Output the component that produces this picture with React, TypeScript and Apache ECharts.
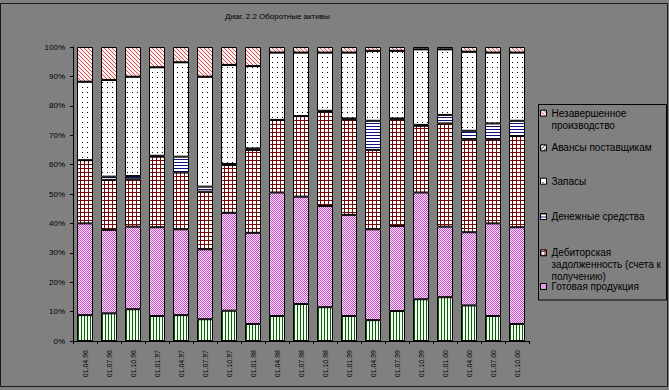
import React, { useEffect, useRef } from "react";
import * as echarts from "echarts";

const categories = [
  "01.04.96", "01.07.96", "01.10.96", "01.01.97", "01.04.97", "01.07.97", "01.10.97",
  "01.01.98", "01.04.98", "01.07.98", "01.10.98", "01.01.99", "01.04.99", "01.07.99",
  "01.10.99", "01.01.00", "01.04.00", "01.07.00", "01.10.00",
];

// bottom segment (its legend entry is not shown in the picture)
const otherValues = [8.8, 9.4, 10.8, 8.5, 8.8, 7.4, 10.3, 5.8, 8.5, 12.6, 11.5, 8.5, 7.1, 10.2, 14.2, 14.9, 12.1, 8.5, 5.8];
const finishedGoods = [31.2, 28.4, 28.1, 30.2, 29.2, 23.8, 33.3, 31.0, 42.0, 36.5, 34.4, 34.4, 30.9, 28.9, 36.3, 24.0, 24.9, 31.5, 32.9];
const receivables = [21.5, 17.0, 16.1, 24.0, 19.3, 19.6, 16.3, 28.2, 24.7, 27.4, 32.1, 32.5, 27.0, 36.3, 22.7, 35.1, 31.6, 28.6, 31.0];
const cash = [0, 1.1, 1.1, 0.3, 5.4, 1.7, 0.3, 0.5, 0, 0, 0.3, 0.3, 9.9, 0.3, 0.3, 2.9, 2.9, 5.4, 5.2];
const inventory = [26.7, 32.9, 33.8, 30.1, 32.1, 37.4, 33.7, 28.0, 22.9, 21.6, 19.8, 22.4, 23.8, 23.0, 25.7, 22.3, 26.9, 24.1, 23.2];
const advances = [0, 0, 0, 0, 0, 0, 0, 0, 0, 0, 0, 0, 0, 0, 0, 0, 0, 0, 0];
const wip = [11.8, 11.2, 10.1, 6.9, 5.2, 10.1, 6.1, 6.5, 1.9, 1.9, 1.9, 1.9, 1.3, 1.3, 0.8, 0.8, 1.6, 1.9, 1.9];

const yTicks = [0, 10, 20, 30, 40, 50, 60, 70, 80, 90, 100];

const NAME_OTHER = "Прочие";
const NAME_GOODS = "Готовая продукция";
const NAME_RECV = "Дебиторская задолженность (счета к получению)";
const NAME_CASH = "Денежные средства";
const NAME_INV = "Запасы";
const NAME_ADV = "Авансы поставщикам";
const NAME_WIP = "Незавершенное производство";

const legendLines: Record<string, string> = {
  [NAME_WIP]: "Незавершенное\nпроизводство",
  [NAME_ADV]: "Авансы поставщикам",
  [NAME_INV]: "Запасы",
  [NAME_CASH]: "Денежные средства",
  [NAME_RECV]: "Дебиторская\nзадолженность (счета к\nполучению)",
  [NAME_GOODS]: "Готовая продукция",
};

function makePattern(w: number, h: number, bg: string, fg: string, px: [number, number][]) {
  const c = document.createElement("canvas");
  c.width = w;
  c.height = h;
  const ctx = c.getContext("2d")!;
  ctx.fillStyle = bg;
  ctx.fillRect(0, 0, w, h);
  ctx.fillStyle = fg;
  px.forEach(([x, y]) => ctx.fillRect(x, y, 1, 1));
  return { image: c, repeat: "repeat", imageWidth: w, imageHeight: h } as any;
}

const FONT = "Liberation Sans, Arial, sans-serif";

export default function App() {
  const ref = useRef<HTMLDivElement>(null);

  useEffect(() => {
    if (!ref.current) return;
    const chart = echarts.init(ref.current, undefined, { renderer: "svg" });

    const pGreen = makePattern(3, 1, "#f0fff0", "#0a5a0a", [[0, 0]]);
    const pMagenta = makePattern(2, 2, "#ffe4ff", "#c850c8", [[0, 0], [1, 1]]);
    const pBrown = makePattern(4, 4, "#ffffff", "#780808", [[0, 0], [1, 0], [2, 0], [3, 0], [0, 1], [0, 2], [0, 3]]);
    const pBlue = makePattern(1, 3, "#ffffff", "#101080", [[0, 0]]);
    const pDots = makePattern(5, 5, "#ffffff", "#000000", [[2, 2]]);
    const pAdv = makePattern(4, 4, "#ffffff", "#000000", [[3, 0], [2, 1], [1, 2], [0, 3]]);
    const pPink = makePattern(4, 4, "#fff0f0", "#d05050", [[0, 0], [1, 1], [2, 2], [3, 3]]);

    const defs: [string, number[], any][] = [
      [NAME_OTHER, otherValues, pGreen],
      [NAME_GOODS, finishedGoods, pMagenta],
      [NAME_RECV, receivables, pBrown],
      [NAME_CASH, cash, pBlue],
      [NAME_INV, inventory, pDots],
      [NAME_ADV, advances, pAdv],
      [NAME_WIP, wip, pPink],
    ];

    const series = defs.map(([name, data, pat]) => ({
      name,
      type: "bar",
      stack: "total",
      data,
      barWidth: 16,
      itemStyle: { color: pat, borderColor: "#000", borderWidth: 1 },
      emphasis: { disabled: true },
    }));

    // legend entries: [name, first-line centre y, number of lines]
    const L = 12;
    const legendEntries: [string, number, number][] = [
      [NAME_WIP, 112.7, 2],
      [NAME_ADV, 147.3, 1],
      [NAME_INV, 180.7, 1],
      [NAME_CASH, 216, 1],
      [NAME_RECV, 252.3, 3],
      [NAME_GOODS, 286, 1],
    ];
    const legends = legendEntries.map(([name, cy, n]) => {
      const h = n * L;
      return {
        data: [name],
        orient: "vertical",
        left: 540,
        top: cy - L / 2,
        padding: 0,
        itemWidth: 6,
        itemHeight: h,
        selectedMode: false,
        icon: `path://M0,0L0,0M0,3H6V9H0ZM0,${h}L0,${h}`,
        itemStyle: { borderColor: "#000", borderWidth: 1 },
        formatter: (nm: string) => legendLines[nm] || nm,
        textStyle: { fontSize: 10, lineHeight: L, color: "#000", fontFamily: FONT },
      };
    });

    chart.setOption({
      animation: false,
      backgroundColor: "#808080",
      textStyle: { fontFamily: FONT },
      title: {
        text: "Диаг. 2.2 Оборотные активы",
        left: 225,
        top: 12,
        padding: 0,
        textStyle: { fontSize: 8, fontWeight: "normal", color: "#000", fontFamily: FONT },
      },
      grid: { left: 73, right: 140, top: 47, bottom: 49, containLabel: false },
      legend: legends,
      xAxis: {
        type: "category",
        data: categories,
        axisLine: { lineStyle: { color: "#000", width: 1 } },
        axisTick: { show: true, length: 3, inside: false, lineStyle: { color: "#000" } },
        axisLabel: { interval: 0, rotate: 90, fontSize: 7, color: "#000", margin: 9, fontFamily: FONT },
      },
      yAxis: {
        type: "value",
        min: yTicks[0],
        max: yTicks[yTicks.length - 1],
        interval: 10,
        axisLine: { show: true, lineStyle: { color: "#000", width: 1 } },
        axisTick: { show: true, length: 3, lineStyle: { color: "#000" } },
        splitLine: { show: false },
        axisLabel: { formatter: "{value}%", fontSize: 8, color: "#000", margin: 8, fontFamily: FONT },
      },
      graphic: [
        {
          type: "rect",
          shape: { x: 0.5, y: 3.5, width: 667, height: 383 },
          style: { fill: "none", stroke: "#1a1a1a", lineWidth: 1 },
          silent: true,
        },
        {
          type: "rect",
          shape: { x: 538.5, y: 104.5, width: 128, height: 195.5 },
          style: { fill: "none", stroke: "#000", lineWidth: 1 },
          silent: true,
        },
      ],
      series,
    });

    return () => chart.dispose();
  }, []);

  return (
    <div
      ref={ref}
      style={{ position: "fixed", left: 0, top: 0, width: 669, height: 390 }}
    />
  );
}
